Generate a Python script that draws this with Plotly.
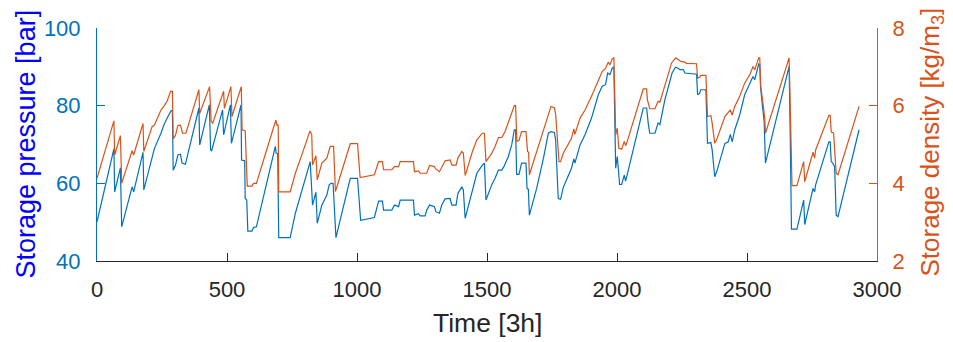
import plotly.graph_objects as go

# Storage pressure [bar] (left axis), time in 3h steps
t_pressure = [0, 65, 68, 90, 95, 135, 141, 177, 180, 212, 221, 246, 257, 270, 285, 290, 293, 302, 311, 321, 327, 340,
              392, 395, 432, 437, 441, 483, 487, 513, 517, 554, 556, 568, 570, 576, 580, 596, 602, 613, 686, 689, 695,
              699, 743, 763, 820, 829, 842, 847, 865, 884, 893, 900, 908, 919, 974, 1002, 1014, 1067, 1083, 1098, 1102,
              1134, 1144, 1160, 1166, 1217, 1221, 1236, 1243, 1262, 1268, 1279, 1298, 1303, 1317, 1326, 1339, 1358,
              1365, 1381, 1388, 1403, 1409, 1416, 1444, 1461, 1482, 1490, 1496, 1518, 1531, 1544, 1557, 1565, 1582,
              1595, 1605, 1610, 1614, 1623, 1633, 1650, 1654, 1659, 1663, 1691, 1717, 1736, 1746, 1759, 1764, 1774,
              1783, 1793, 1806, 1825, 1834, 1838, 1858, 1877, 1902, 1915, 1928, 1943, 1956, 1964, 1973, 1982, 1988,
              1995, 2001, 2005, 2010, 2018, 2028, 2033, 2037, 2101, 2114, 2120, 2126, 2146, 2158, 2165, 2184, 2212,
              2225, 2233, 2242, 2255, 2261, 2306, 2310, 2318, 2322, 2342, 2344, 2348, 2361, 2366, 2376, 2383, 2415,
              2428, 2436, 2443, 2453, 2472, 2491, 2511, 2523, 2530, 2545, 2549, 2552, 2559, 2566, 2571, 2662, 2667,
              2671, 2692, 2718, 2722, 2754, 2760, 2764, 2815, 2820, 2824, 2830, 2837, 2843, 2850, 2931]
pressure = [50.1, 68.9, 57.8, 64.0, 48.8, 59.1, 57.8, 68.0, 58.3, 66.4, 69.0, 72.9, 75.0, 76.8, 78.7, 78.7, 63.4, 64.7,
            67.3, 67.5, 65.2, 64.9, 79.4, 69.9, 80.2, 68.6, 68.4, 78.9, 72.5, 80.2, 70.3, 80.2, 66.0, 65.8, 56.1, 55.7,
            47.7, 47.7, 48.6, 48.8, 69.5, 67.8, 67.7, 46.0, 46.0, 52.3, 65.6, 54.4, 57.7, 49.7, 54.4, 57.0, 59.6, 60.0,
            60.0, 46.0, 61.3, 61.3, 50.5, 51.2, 55.4, 55.4, 53.1, 53.1, 54.4, 54.0, 55.7, 55.7, 51.8, 52.2, 51.6, 51.6,
            53.1, 54.4, 54.0, 52.7, 52.3, 54.4, 56.0, 56.1, 54.4, 54.4, 57.4, 59.1, 58.3, 51.0, 58.7, 62.6, 64.7, 65.2,
            55.7, 59.6, 61.3, 63.4, 63.4, 64.3, 66.9, 69.9, 73.8, 73.8, 62.3, 62.3, 65.2, 65.2, 58.7, 58.5, 51.8, 58.7,
            66.4, 72.9, 73.3, 73.1, 71.2, 56.1, 55.9, 58.9, 60.9, 63.9, 66.3, 65.2, 69.9, 72.5, 76.8, 79.5, 82.8, 85.0,
            85.4, 88.4, 88.0, 89.7, 89.9, 63.9, 66.9, 63.9, 59.7, 59.7, 62.1, 60.6, 61.6, 79.4, 79.4, 75.5, 72.9, 72.9,
            75.5, 75.1, 81.5, 88.4, 89.9, 89.7, 89.3, 89.3, 88.4, 88.1, 82.8, 83.2, 84.1, 84.1, 76.8, 70.3, 70.5, 68.6,
            61.7, 62.9, 70.3, 70.7, 72.6, 70.7, 73.8, 77.6, 82.8, 85.8, 87.5, 86.7, 90.7, 90.5, 84.9, 80.2, 75.9, 65.2,
            90.1, 69.0, 48.2, 48.2, 55.7, 49.4, 58.7, 57.8, 59.6, 70.7, 70.7, 65.6, 65.2, 64.3, 51.8, 51.4, 73.8]

# Storage density [kg/m3] (right axis)
t_density = [0, 65, 68, 90, 95, 135, 141, 177, 180, 212, 221, 246, 257, 270, 283, 290, 293, 302, 311, 321, 329, 342,
             392, 395, 433, 439, 445, 487, 490, 515, 519, 555, 558, 570, 578, 596, 602, 613, 688, 692, 697, 699, 743,
             763, 801, 819, 826, 829, 842, 847, 865, 884, 897, 910, 917, 974, 1002, 1012, 1067, 1083, 1098, 1102, 1134,
             1144, 1160, 1166, 1217, 1221, 1236, 1243, 1268, 1279, 1298, 1303, 1317, 1326, 1339, 1358, 1365, 1381,
             1388, 1403, 1409, 1416, 1444, 1461, 1482, 1490, 1496, 1518, 1531, 1544, 1557, 1569, 1582, 1595, 1605,
             1610, 1615, 1623, 1633, 1650, 1656, 1660, 1663, 1691, 1717, 1738, 1746, 1759, 1764, 1777, 1783, 1793,
             1806, 1825, 1834, 1838, 1858, 1877, 1902, 1915, 1928, 1943, 1956, 1966, 1973, 1982, 1988, 1995, 2001,
             2007, 2018, 2028, 2033, 2037, 2101, 2114, 2117, 2126, 2146, 2158, 2165, 2184, 2210, 2226, 2235, 2245,
             2261, 2267, 2306, 2310, 2318, 2322, 2342, 2344, 2348, 2361, 2366, 2376, 2383, 2415, 2428, 2436, 2443,
             2453, 2472, 2491, 2511, 2523, 2530, 2545, 2549, 2553, 2562, 2568, 2571, 2662, 2668, 2673, 2692, 2718,
             2722, 2754, 2760, 2764, 2815, 2820, 2824, 2833, 2843, 2850, 2931]
density = [4.13, 5.61, 4.73, 5.23, 4.00, 4.84, 4.73, 5.54, 4.82, 5.46, 5.50, 5.89, 5.98, 6.12, 6.37, 6.37, 5.14, 5.24,
           5.49, 5.50, 5.29, 5.29, 6.41, 5.80, 6.49, 5.59, 5.55, 6.37, 5.93, 6.49, 5.72, 6.49, 5.38, 5.35, 3.93, 3.93,
           4.00, 4.00, 5.63, 5.50, 5.50, 3.78, 3.78, 4.26, 4.99, 5.35, 5.25, 4.47, 4.71, 4.09, 4.52, 4.65, 4.95, 4.95,
           3.79, 5.02, 5.02, 4.15, 4.22, 4.56, 4.56, 4.35, 4.35, 4.43, 4.43, 4.56, 4.56, 4.30, 4.32, 4.26, 4.26, 4.46,
           4.43, 4.37, 4.30, 4.43, 4.58, 4.60, 4.47, 4.47, 4.65, 4.82, 4.78, 4.20, 4.82, 5.12, 5.29, 5.29, 4.56, 4.77,
           4.95, 5.18, 5.18, 5.33, 5.55, 5.81, 6.00, 6.00, 5.08, 5.10, 5.33, 5.33, 4.82, 4.80, 4.22, 4.82, 5.42, 5.87,
           5.98, 5.95, 5.78, 4.56, 4.56, 4.77, 4.92, 5.16, 5.40, 5.26, 5.68, 5.89, 6.24, 6.45, 6.67, 6.88, 6.96, 7.12,
           7.05, 7.21, 7.23, 5.25, 5.42, 4.90, 4.88, 5.08, 4.97, 5.03, 6.43, 6.43, 6.15, 5.92, 5.92, 6.11, 6.09, 6.54,
           7.10, 7.23, 7.19, 7.14, 7.12, 7.09, 7.08, 6.71, 6.73, 6.78, 6.78, 6.24, 5.72, 5.74, 5.55, 5.03, 5.12, 5.72,
           5.81, 5.89, 5.76, 5.98, 6.24, 6.58, 6.80, 7.01, 6.92, 7.23, 7.23, 6.49, 6.04, 5.68, 5.29, 7.23, 5.50, 3.94,
           3.94, 4.56, 4.04, 4.80, 4.65, 4.86, 5.75, 5.75, 5.32, 5.30, 4.26, 4.22, 5.98]

x_ticks = [0, 500, 1000, 1500, 2000, 2500, 3000]
p_ticks = [40, 60, 80, 100]
d_ticks = [2, 4, 6, 8]

BLUE = "#0072BD"
ORANGE = "#D95319"
DARK = "#262626"
FONT = "Liberation Sans, Arial, sans-serif"

fig = go.Figure()
fig.add_trace(go.Scatter(x=t_pressure, y=pressure, mode="lines", line=dict(color=BLUE, width=1.2),
                         yaxis="y", showlegend=False))
fig.add_trace(go.Scatter(x=t_density, y=density, mode="lines", line=dict(color=ORANGE, width=1.2),
                         yaxis="y2", showlegend=False))

# the page body adds an 8px offset, so the figure is 8px smaller on each axis
fig.update_layout(
    width=945, height=334,
    margin=dict(l=88.5, r=75.5, t=20.3, b=81, pad=0, autoexpand=False),
    paper_bgcolor="white", plot_bgcolor="white",
    font=dict(family=FONT, size=22, color=DARK),
    xaxis=dict(range=[0, 3000], tickvals=x_ticks, ticktext=[str(v) for v in x_ticks],
               ticks="inside", ticklen=8, tickwidth=1, tickcolor=DARK,
               showline=True, linecolor=DARK, linewidth=1, showgrid=False, zeroline=False,
               tickfont=dict(family=FONT, size=22, color=DARK), ticklabelstandoff=9),
    yaxis=dict(range=[40, 100], tickvals=p_ticks, ticktext=[str(v) for v in p_ticks],
               ticks="inside", ticklen=8, tickwidth=1, tickcolor=BLUE,
               showline=True, linecolor=BLUE, linewidth=1, showgrid=False, zeroline=False,
               tickfont=dict(family=FONT, size=22, color=BLUE), ticklabelstandoff=11),
    yaxis2=dict(range=[2, 8], tickvals=d_ticks, ticktext=[str(v) for v in d_ticks],
                overlaying="y", side="right", anchor="x",
                ticks="inside", ticklen=8, tickwidth=1, tickcolor=ORANGE,
                showline=True, linecolor=ORANGE, linewidth=1, showgrid=False, zeroline=False,
                tickfont=dict(family=FONT, size=22, color=ORANGE), ticklabelstandoff=10),
    annotations=[
        dict(text="Storage pressure [bar]", xref="paper", yref="paper", x=0, y=0.5,
             xanchor="center", yanchor="middle", xshift=-72, textangle=-90, showarrow=False,
             font=dict(family=FONT, size=27, color="#0000FF")),
        dict(text="Storage density [kg/m<sub>3</sub>]", xref="paper", yref="paper", x=1, y=0.5,
             xanchor="center", yanchor="middle", xshift=54, yshift=2, textangle=-90, showarrow=False,
             font=dict(family=FONT, size=26, color=ORANGE)),
        dict(text="Time [3h]", xref="paper", yref="paper", x=0.5, y=0,
             xanchor="center", yanchor="middle", yshift=-62, showarrow=False,
             font=dict(family=FONT, size=26.5, color=DARK)),
    ],
)

fig.write_html("out.html")
